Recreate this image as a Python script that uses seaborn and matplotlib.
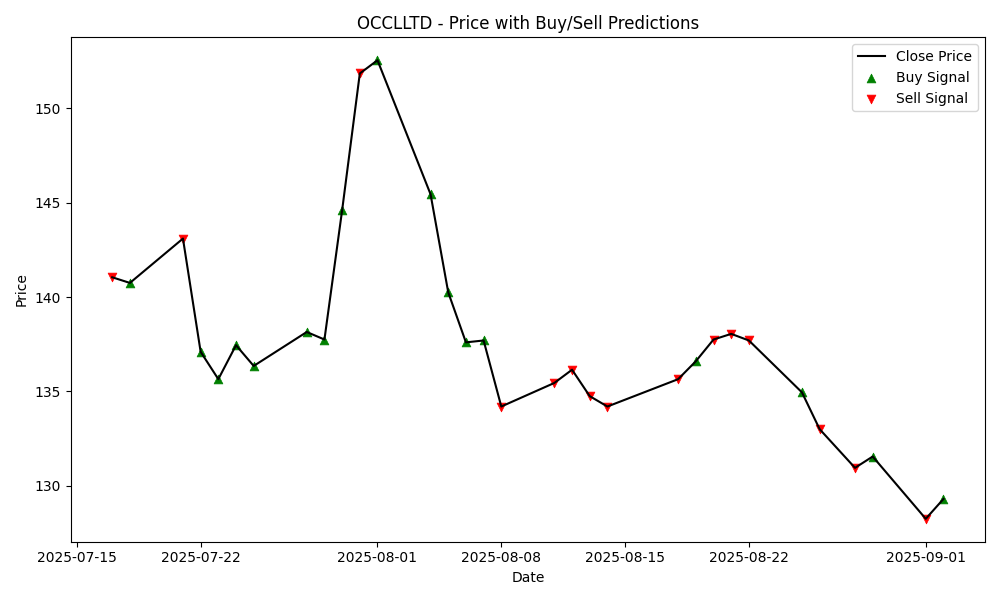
import pandas as pd
import matplotlib.pyplot as plt
import seaborn as sns

# Trading days and closing prices
dates = [
    "2025-07-17", "2025-07-18", "2025-07-21", "2025-07-22", "2025-07-23",
    "2025-07-24", "2025-07-25", "2025-07-28", "2025-07-29", "2025-07-30",
    "2025-07-31", "2025-08-01", "2025-08-04", "2025-08-05", "2025-08-06",
    "2025-08-07", "2025-08-08", "2025-08-11", "2025-08-12", "2025-08-13",
    "2025-08-14", "2025-08-18", "2025-08-19", "2025-08-20", "2025-08-21",
    "2025-08-22", "2025-08-25", "2025-08-26", "2025-08-28", "2025-08-29",
    "2025-09-01", "2025-09-02",
]
close = [
    141.05, 140.75, 143.1, 137.1, 135.65,
    137.45, 136.35, 138.15, 137.75, 144.6,
    151.85, 152.55, 145.45, 140.25, 137.6,
    137.7, 134.2, 135.45, 136.15, 134.75,
    134.2, 135.65, 136.6, 137.75, 138.05,
    137.7, 134.95, 133.0, 130.95, 131.55,
    128.25, 129.3,
]
# 1 = buy, 0 = sell
signal = [
    0, 1, 0, 1, 1,
    1, 1, 1, 1, 1,
    0, 1, 1, 1, 1,
    1, 0, 0, 0, 0,
    0, 0, 1, 0, 0,
    0, 1, 0, 0, 1,
    0, 1,
]

df = pd.DataFrame({"Date": pd.to_datetime(dates), "Close": close, "Signal": signal})
buys = df[df["Signal"] == 1]
sells = df[df["Signal"] == 0]

fig, ax = plt.subplots(figsize=(10, 6))
sns.lineplot(data=df, x="Date", y="Close", color="black", label="Close Price", ax=ax)
# markers sit under the price line, like plain matplotlib scatter
sns.scatterplot(data=buys, x="Date", y="Close", marker="^", color="green",
                edgecolor="green", s=40, label="Buy Signal", ax=ax, zorder=1)
sns.scatterplot(data=sells, x="Date", y="Close", marker="v", color="red",
                edgecolor="red", s=40, label="Sell Signal", ax=ax, zorder=1)

ax.set_title("OCCLLTD - Price with Buy/Sell Predictions")
ax.set_xlabel("Date")
ax.set_ylabel("Price")
ax.legend(loc="upper right")
plt.tight_layout()
plt.savefig("out.png", dpi=100)
